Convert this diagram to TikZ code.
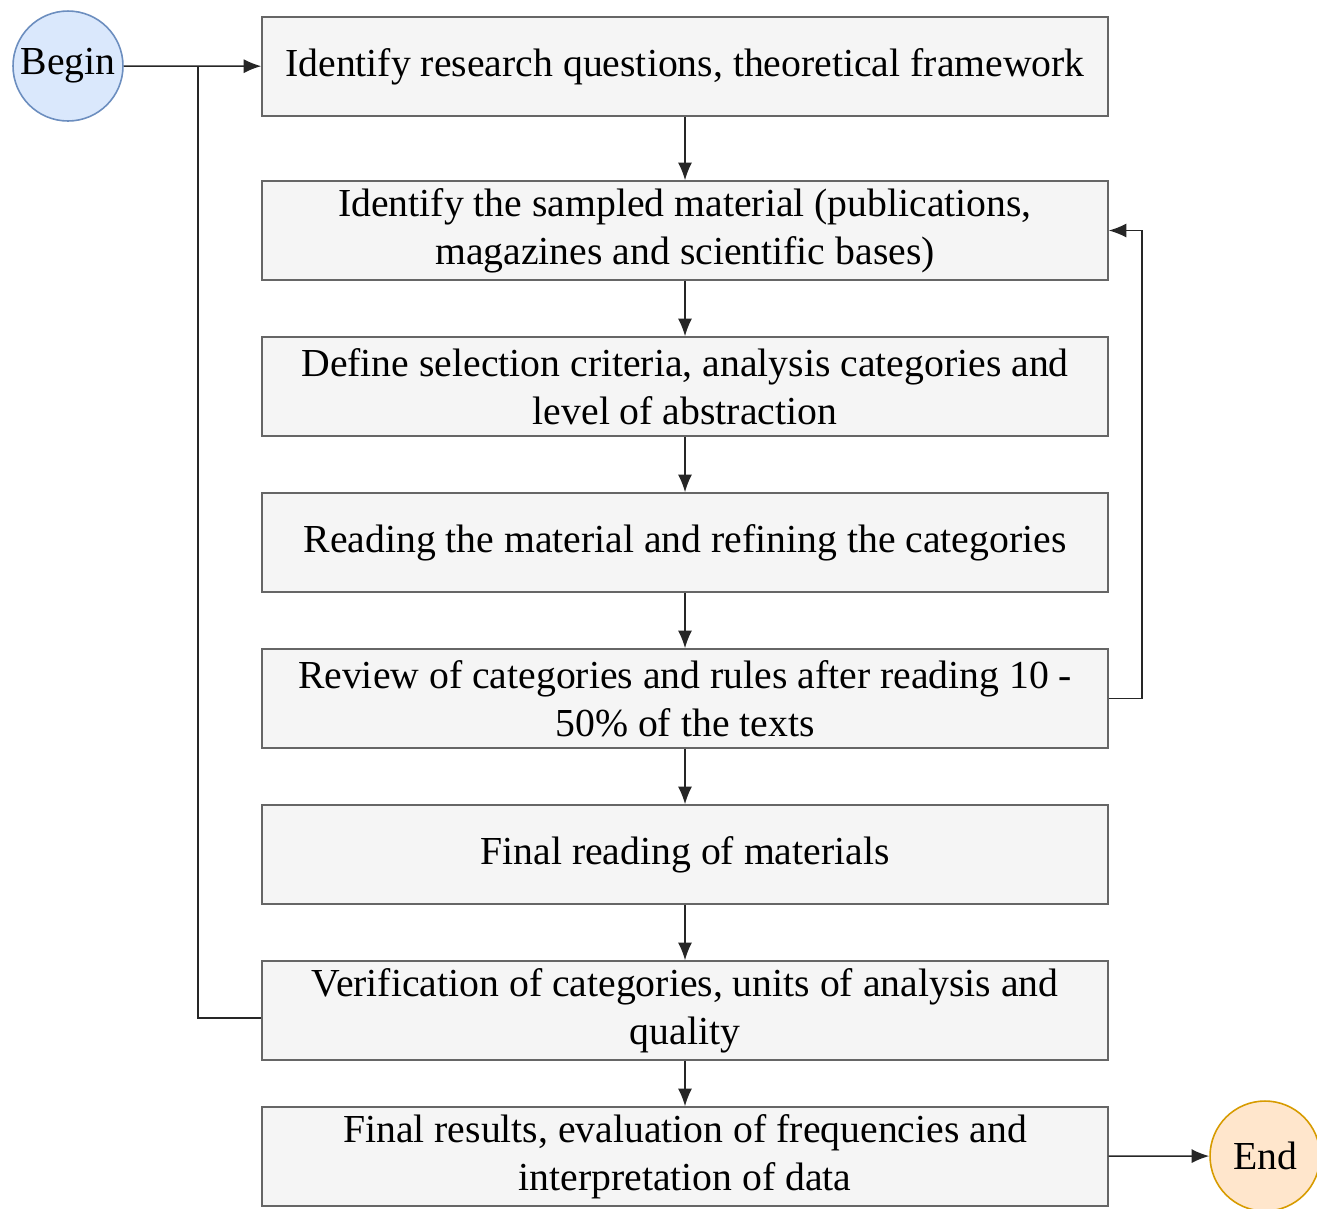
\documentclass[tikz,border=0pt]{standalone}
\usepackage{fontspec}
\setmainfont{Liberation Serif}
\usetikzlibrary{arrows.meta}
\definecolor{boxfill}{HTML}{F5F5F5}
\definecolor{boxdraw}{HTML}{666666}
\definecolor{beginfill}{HTML}{DAE8FC}
\definecolor{begindraw}{HTML}{6C8EBF}
\definecolor{endfill}{HTML}{FFE6CC}
\definecolor{enddraw}{HTML}{D79B00}
\begin{document}
\begin{tikzpicture}[
    x=0.02cm, y=-0.02cm,
    stage/.style={rectangle, draw=boxdraw, fill=boxfill, line width=0.9pt,
        minimum width=16.92cm, minimum height=1.98cm, align=center,
        font=\fontsize{22.6}{27.3}\selectfont, inner sep=0pt},
    terminal/.style={circle, line width=0.9pt, minimum size=2.2cm, inner sep=0pt,
        font=\fontsize{22.6}{27}\selectfont},
    link/.style={line width=0.9pt, black!85},
    arr/.style={link, -{Latex[length=10pt,width=8pt]}}
]
    \useasboundingbox (0,0) rectangle (1317,1208);

    \node[terminal, fill=beginfill, draw=begindraw] (begin) at (68,66) {Begin};
    \node[terminal, fill=endfill, draw=enddraw] (endn) at (1265,1156) {End};

    \node[stage] (s1) at (685,66.5) {Identify research questions, theoretical framework};
    \node[stage] (s2) at (685,230.5) {Identify the sampled material (publications,\\ magazines and scientific bases)};
    \node[stage] (s3) at (685,386.5) {Define selection criteria, analysis categories and\\ level of abstraction};
    \node[stage] (s4) at (685,542.5) {Reading the material and refining the categories};
    \node[stage] (s5) at (685,698.5) {Review of categories and rules after reading 10 -\\ 50\% of the texts};
    \node[stage] (s6) at (685,854.5) {Final reading of materials};
    \node[stage] (s7) at (685,1010.5) {Verification of categories, units of analysis and\\ quality};
    \node[stage] (s8) at (685,1156.5) {Final results, evaluation of frequencies and\\ interpretation of data};

    \coordinate (join) at (198,66);

    \draw[arr] (begin) -- (s1);
    \draw[arr] (s1) -- (s2);
    \draw[arr] (s2) -- (s3);
    \draw[arr] (s3) -- (s4);
    \draw[arr] (s4) -- (s5);
    \draw[arr] (s5) -- (s6);
    \draw[arr] (s6) -- (s7);
    \draw[arr] (s7) -- (s8);
    \draw[arr] (s8) -- (endn);

    % feedback after the review
    \draw[arr] (s5.east) -- ++(33,0) |- (s2.east);
    % loop back to the start
    \draw[link] ([yshift=-0.15cm]s7.west) -| (join);
\end{tikzpicture}
\end{document}
